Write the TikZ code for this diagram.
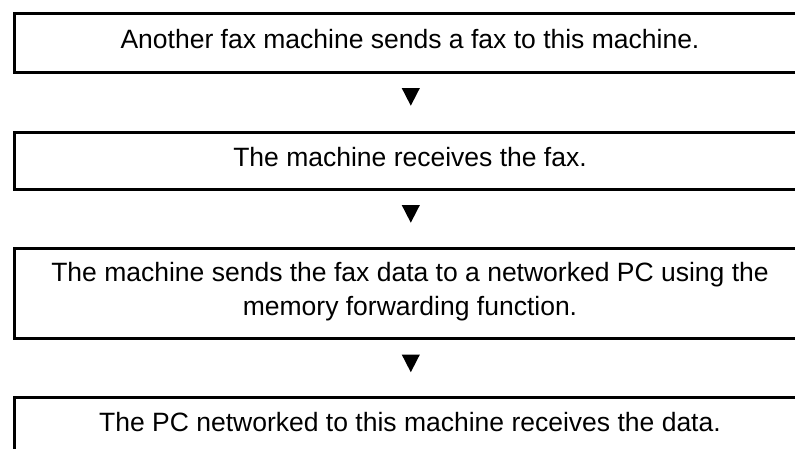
\documentclass[tikz,border=0pt]{standalone}
\usepackage{fontspec}
\setmainfont{Liberation Sans}
\begin{document}
\begin{tikzpicture}[x=1pt,y=-1pt,
  box/.style={draw=black, line width=3pt, minimum width=791pt, inner sep=0pt},
  txt/.style={anchor=base, inner sep=0pt, font=\fontsize{26.5}{33}\selectfont},
  tri/.style={fill=black}]
\useasboundingbox (0,0) rectangle (795,448);
% boxes
\node[box, minimum height=58.2pt] (b1) at (410,42.9) {};
\node[box, minimum height=57pt] (b2) at (410,160.5) {};
\node[box, minimum height=90.5pt] (b3) at (410,293.25) {};
\node[box, minimum height=58pt] (b4) at (410,426) {};
% texts
\node[txt] (t1) at (410,48.3) {Another fax machine sends a fax to this machine.};
\node[txt] (t2) at (410,166.5) {The machine receives the fax.};
\node[txt] (t3a) at (410,281.7) {The machine sends the fax data to a networked PC using the};
\node[txt] (t3b) at (410,315) {memory forwarding function.};
\node[txt] (t4) at (410,431.7) {The PC networked to this machine receives the data.};
% arrows (triangles)
\coordinate (a1) at (410.8,88);
\coordinate (a2) at (410.8,205);
\coordinate (a3) at (410.8,354.5);
\foreach \a in {a1,a2,a3}{
  \fill[tri] (\a) ++(-9.1,0) -- ++(18.2,0) -- ++(-9.1,17.7) -- cycle;
}
\end{tikzpicture}
\end{document}
